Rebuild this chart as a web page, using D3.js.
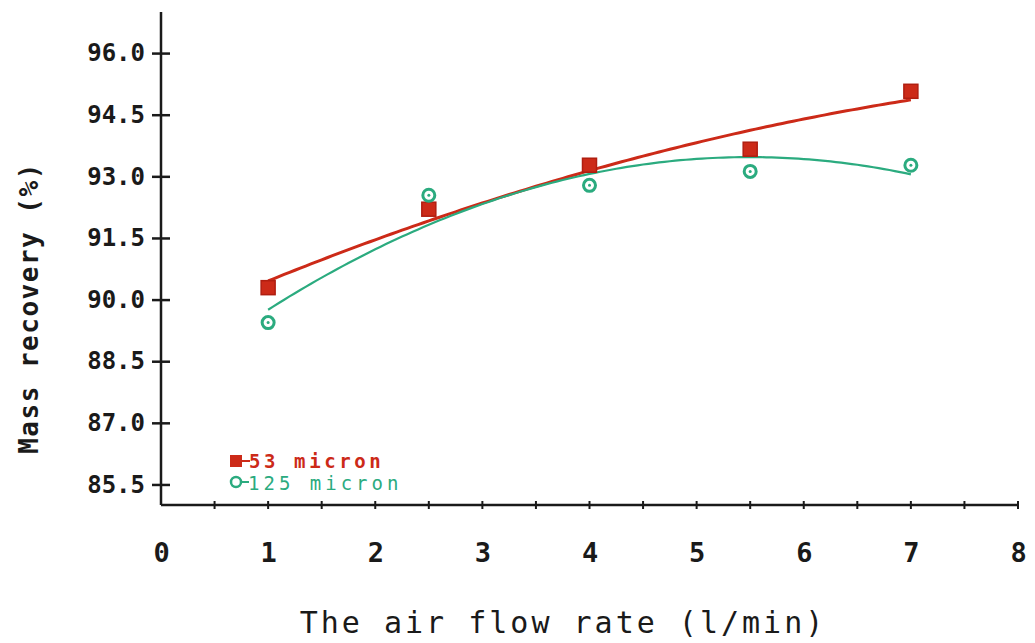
<!DOCTYPE html>
<html><head><meta charset="utf-8">
<script src="https://cdn.jsdelivr.net/npm/d3@7"></script>
<style>body{margin:0;background:#fff}svg{display:block}</style>
</head><body>
<svg id="c" width="1035" height="643"></svg>
<script>
const xFlow = [1, 2.5, 4, 5.5, 7];
const red53 = [90.29, 92.2, 93.27, 93.66, 95.07];
const green125 = [89.44, 92.54, 92.78, 93.12, 93.27];
const yTicks = [85.5, 87.0, 88.5, 90.0, 91.5, 93.0, 94.5, 96.0];
const xTicks = [0, 1, 2, 3, 4, 5, 6, 7, 8];
const legendLabels = ["53 micron", "125 micron"];

const svg = d3.select("#c");
const x = d3.scaleLinear().domain([0, 8]).range([161, 1018]);
const y = d3.scaleLinear().domain([85.0, 97.0]).range([505, 12]);
const RED = "#cc2a18", GREEN = "#2bab7f", INK = "#1a1a1a";
const font = "'DejaVu Sans Mono', monospace";

// quadratic least-squares fit
function quadFit(xs, ys) {
  let S = [0,0,0,0,0], T = [0,0,0];
  xs.forEach((xi, i) => { for (let k = 0; k < 5; k++) S[k] += Math.pow(xi, k); for (let k = 0; k < 3; k++) T[k] += ys[i] * Math.pow(xi, k); });
  const A = [[S[0],S[1],S[2],T[0]],[S[1],S[2],S[3],T[1]],[S[2],S[3],S[4],T[2]]];
  for (let i = 0; i < 3; i++) { for (let j = i+1; j < 3; j++) { const f = A[j][i]/A[i][i]; for (let k = i; k < 4; k++) A[j][k] -= f*A[i][k]; } }
  const c = [0,0,0];
  for (let i = 2; i >= 0; i--) { let s = A[i][3]; for (let k = i+1; k < 3; k++) s -= A[i][k]*c[k]; c[i] = s / A[i][i]; }
  return t => c[0] + c[1]*t + c[2]*t*t;
}

// axes
const gy = svg.append("g").attr("transform", `translate(${x(0)},0)`)
  .call(d3.axisLeft(y).tickValues(yTicks).tickSizeInner(9).tickSizeOuter(0).tickFormat(d3.format(".1f")));
gy.select(".domain").attr("d", `M0,${y(85.0)}V${y(97.0)}`);
gy.selectAll(".tick line").attr("x1", 9).attr("x2", -9);
const gx = svg.append("g").attr("transform", `translate(0,${y(85.0)})`)
  .call(d3.axisBottom(x).tickValues(xTicks).tickSize(0).tickPadding(38).tickFormat(d3.format("d")));
gx.select(".domain").attr("d", `M${x(0)},0H${x(8)}`);
// minor ticks every 0.5
svg.append("g").selectAll("line").data(d3.range(0.5, 8.01, 0.5)).join("line")
  .attr("x1", d => x(d)).attr("x2", d => x(d)).attr("y1", y(85.0) - 4).attr("y2", y(85.0) + 4)
  .attr("stroke", INK).attr("stroke-width", 2);

[gx, gy].forEach(g => {
  g.selectAll(".domain").attr("stroke", INK).attr("stroke-width", 2.5);
  g.selectAll(".tick line").attr("stroke", INK).attr("stroke-width", 2.5);
  g.selectAll(".tick text").attr("fill", INK).attr("font-family", font).attr("font-weight", "bold").attr("font-size", 24);
});
gx.selectAll(".tick text").attr("font-size", 27);
gy.selectAll(".tick text").attr("x", -16);

// fit curves
const series = [{v: red53, c: RED, w: 3}, {v: green125, c: GREEN, w: 2.2}];
series.forEach(s => {
  const f = quadFit(xFlow, s.v);
  const pts = d3.range(1, 7.001, 0.05).map(t => [t, f(t)]);
  svg.append("path").attr("d", d3.line().x(d => x(d[0])).y(d => y(d[1])).curve(d3.curveLinear)(pts))
    .attr("fill", "none").attr("stroke", s.c).attr("stroke-width", s.w);
});

// markers
svg.append("g").selectAll("rect").data(xFlow).join("rect")
  .attr("x", (d) => x(d) - 7).attr("y", (d, i) => y(red53[i]) - 7).attr("width", 14).attr("height", 14)
  .attr("fill", RED).attr("stroke", "#b01e10").attr("stroke-width", 1.5);
svg.append("g").selectAll("circle").data(xFlow).join("circle")
  .attr("cx", d => x(d)).attr("cy", (d, i) => y(green125[i])).attr("r", 6)
  .attr("fill", "none").attr("stroke", GREEN).attr("stroke-width", 3);
svg.append("g").selectAll("circle").data(xFlow).join("circle")
  .attr("cx", d => x(d)).attr("cy", (d, i) => y(green125[i])).attr("r", 1.5).attr("fill", GREEN);

// legend
const lg = svg.append("g");
lg.append("rect").attr("x", 230).attr("y", 455).attr("width", 12).attr("height", 12).attr("fill", RED);
lg.append("line").attr("x1", 242).attr("x2", 250).attr("y1", 461).attr("y2", 461).attr("stroke", RED).attr("stroke-width", 2);
lg.append("text").attr("x", 249).attr("y", 468).text(legendLabels[0]).attr("fill", RED)
  .attr("font-family", font).attr("font-size", 19).attr("font-weight", "bold").attr("letter-spacing", 3.6);
lg.append("circle").attr("cx", 236).attr("cy", 482).attr("r", 5).attr("fill", "none").attr("stroke", GREEN).attr("stroke-width", 2.5);
lg.append("line").attr("x1", 241).attr("x2", 249).attr("y1", 482).attr("y2", 482).attr("stroke", GREEN).attr("stroke-width", 2);
lg.append("text").attr("x", 248).attr("y", 490).text(legendLabels[1]).attr("fill", GREEN)
  .attr("font-family", font).attr("font-size", 19).attr("letter-spacing", 4);

// axis titles
svg.append("text").attr("x", 563).attr("y", 633).attr("text-anchor", "middle")
  .attr("font-family", font).attr("font-size", 30).attr("letter-spacing", 3).attr("fill", INK).text("The air flow rate (l/min)");
svg.append("text").attr("transform", "translate(38,308) rotate(-90)").attr("text-anchor", "middle")
  .attr("font-family", font).attr("font-weight", "bold").attr("font-size", 26).attr("letter-spacing", 1.5).attr("fill", INK).text("Mass recovery (%)");
</script>
</body></html>
